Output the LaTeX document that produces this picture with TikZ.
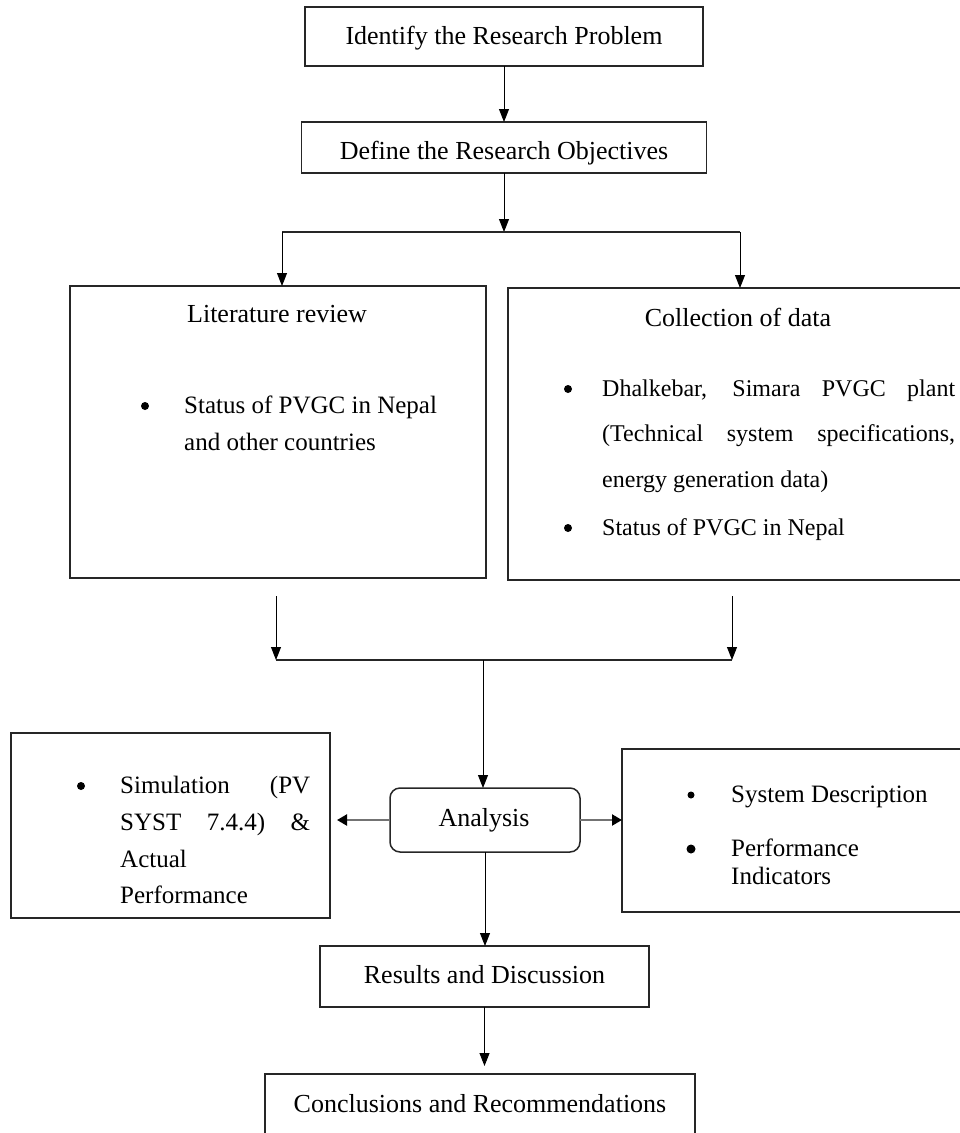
\documentclass[tikz,border=0pt]{standalone}
\usepackage{fontspec}
\setmainfont{Liberation Serif}
\usetikzlibrary{arrows.meta,positioning}

\begin{document}
\begin{tikzpicture}[x=1pt, y=-1pt,
    box/.style={draw=black!85, line width=1.5pt, inner sep=0pt, outer sep=0pt},
    rbox/.style={box, rounded corners=10pt},
    head/.style={font=\fontsize{26}{31}\selectfont, anchor=base, inner sep=0pt},
    body/.style={font=\fontsize{25}{30}\selectfont, anchor=base west, inner sep=0pt},
    bul/.style={circle, fill=black, minimum size=8pt, inner sep=0pt},
    arrow/.style={-{Triangle[length=13pt, width=10pt]}, line width=0.9pt},
    sidearrow/.style={-{Triangle[length=10pt, width=11pt, color=black]}, line width=2.2pt, draw=black!55},
    link/.style={line width=1.5pt, draw=black!85}
]
\useasboundingbox (0,0) rectangle (960,1133);

% Boxes
\node[box, minimum width=398pt, minimum height=59pt] (problem) at (504,36.5) {};
\node[box, minimum width=405pt, minimum height=51pt] (objectives) at (504,147.5) {};
\node[box, minimum width=416pt, minimum height=292pt] (litreview) at (278,432) {};
\node[box, minimum width=467pt, minimum height=292pt] (datacoll) at (741.5,434) {};
\node[box, minimum width=319pt, minimum height=185pt] (simbox) at (170.5,825.5) {};
\node[rbox, minimum width=190pt, minimum height=64pt] (analysis) at (485,820) {};
\node[box, minimum width=378pt, minimum height=163pt] (sysbox) at (811,830.5) {};
\node[box, minimum width=329pt, minimum height=61pt] (results) at (484.5,976.5) {};
\node[box, minimum width=430pt, minimum height=76pt] (conclusions) at (480,1112) {};

% Headings
\node[head] (problemtxt) at (504,44) {Identify the Research Problem};
\node[head] (objectivestxt) at (504,159) {Define the Research Objectives};
\node[head] (litreviewtxt) at (277,322) {Literature review};
\node[head] (datacolltxt) at (738,326) {Collection of data};
\node[head] (analysistxt) at (484,826) {Analysis};
\node[head] (resultstxt) at (484.5,983) {Results and Discussion};
\node[head] (conclusionstxt) at (480,1112) {Conclusions and Recommendations};

% Literature review list
\node[bul] (litdot) at (145,406) {};
\node[body] (lit1) at (184,413) {Status of PVGC in Nepal};
\node[body] (lit2) at (184,450) {and other countries};

% Collection of data list
\node[bul] (datadot1) at (568,389) {};
\node[body, font=\fontsize{24}{29}\selectfont] (data1) at (602,396) {\makebox[353pt][s]{Dhalkebar, Simara PVGC plant}};
\node[body, font=\fontsize{24}{29}\selectfont] (data2) at (602,441) {\makebox[353pt][s]{(Technical system specifications,}};
\node[body, font=\fontsize{24}{29}\selectfont] (data3) at (602,487) {energy generation data)};
\node[bul] (datadot2) at (568,528) {};
\node[body, font=\fontsize{24}{29}\selectfont] (data4) at (602,535) {Status of PVGC in Nepal};

% Simulation list
\node[bul] (simdot) at (81,786) {};
\node[body] (sim1) at (120,793) {\makebox[190pt][s]{Simulation (PV}};
\node[body] (sim2) at (120,830) {\makebox[190pt][s]{SYST 7.4.4) \&}};
\node[body] (sim3) at (120,867) {Actual};
\node[body] (sim4) at (120,903) {Performance};

% System list
\node[bul, minimum size=7pt] (sysdot1) at (691,795) {};
\node[body] (sys1) at (731,802) {System Description};
\node[bul, minimum size=9pt] (sysdot2) at (691,849) {};
\node[body] (sys2) at (731,856) {Performance};
\node[body] (sys3) at (731,884) {Indicators};

% Junctions
\coordinate (split) at (504,232);
\coordinate (splitL) at (282,232);
\coordinate (splitR) at (740,232);
\coordinate (dropL) at (276,596);
\coordinate (dropR) at (732,596);
\coordinate (mergeL) at (276,660);
\coordinate (mergeR) at (732,660);
\coordinate (merge) at (483,660);

% Arrows
\draw[arrow] (problem.south) -- (objectives.north);
\draw[arrow] (objectives.south) -- (split);
\draw[link] (splitL) -- (splitR);
\draw[arrow] (splitL) -- (splitL |- litreview.north);
\draw[arrow] (splitR) -- (splitR |- datacoll.north);

\draw[arrow] (dropL) -- (mergeL);
\draw[arrow] (dropR) -- (mergeR);
\draw[link] (mergeL) -- (mergeR);
\draw[arrow] (merge) -- (merge |- analysis.north);

\draw[sidearrow, shorten >=7pt] (analysis.west) -- (analysis.west -| simbox.east);
\draw[sidearrow] (analysis.east) -- (analysis.east -| sysbox.west);
\draw[arrow] (analysis.south) -- (analysis.south |- results.north);
\draw[arrow, shorten >=8pt] (results.south) -- (results.south |- conclusions.north);

\end{tikzpicture}
\end{document}
